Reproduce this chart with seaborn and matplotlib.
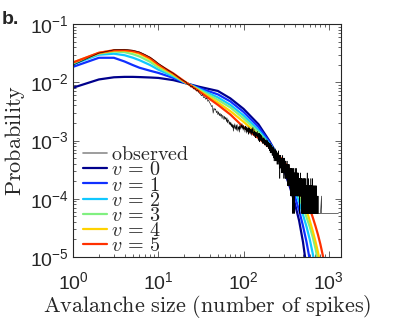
import numpy as np
import pandas as pd
import matplotlib
matplotlib.use('Agg')
import matplotlib.pyplot as plt
from matplotlib.lines import Line2D
import seaborn as sns

sns.set_style("ticks")
plt.rcParams['font.family'] = ['Liberation Sans', 'DejaVu Sans']
plt.rcParams['mathtext.fontset'] = 'cm'

# model fits, one curve per v, evaluated at these avalanche sizes
model_sizes = [1, 2, 3, 4, 5, 6, 8, 10, 15, 20, 30, 50, 70, 100, 150, 200, 250, 300,
               350, 400, 450, 500, 550, 600, 650, 700, 750, 800, 850, 900, 1000]
p_v0 = [.0081, .0112, .0122, .0124, .0124, .0123, .0121, .0119, .0109, .0098, .0084, .0071,
        .0053, .0035, .0019, 1.0e-3, 5.6e-4, 3.0e-4, 1.6e-4, 8.4e-5, 4.2e-5, 1.8e-5, 6.5e-6,
        2e-6, 6e-7, 2e-7, 1e-7, 1e-7, 1e-7, 1e-7, 1e-7]
p_v1 = [.0185, .0264, .0264, .0228, .0198, .0178, .0158, .0145, .0119, .0100, .0080, .0062,
        .0047, .0031, .0017, 9.6e-4, 5.6e-4, 3.3e-4, 1.95e-4, 1.12e-4, 6.3e-5, 3.4e-5, 1.8e-5,
        9e-6, 4e-6, 1.5e-6, 5e-7, 2e-7, 1e-7, 1e-7, 1e-7]
p_v2 = [.0205, .0298, .0310, .0292, .0265, .0240, .0198, .0165, .0126, .0101, .0077, .0055,
        .0041, .0027, .0015, 9.0e-4, 5.8e-4, 3.6e-4, 2.3e-4, 1.45e-4, 8.8e-5, 5.3e-5, 3.3e-5,
        2.0e-5, 1.15e-5, 6e-6, 2.8e-6, 1e-6, 4e-7, 1e-7, 1e-7]
p_v3 = [.0215, .0312, .0338, .0330, .0305, .0278, .0225, .0180, .0132, .0102, .0075, .0050,
        .0037, .0024, .00138, 8.5e-4, 5.7e-4, 3.8e-4, 2.55e-4, 1.7e-4, 1.1e-4, 7.2e-5, 4.8e-5,
        3.3e-5, 2.2e-5, 1.4e-5, 8.5e-6, 4.5e-6, 2e-6, 8e-7, 1e-7]
p_v4 = [.0220, .0320, .0350, .0352, .0335, .0310, .0248, .0195, .0138, .0104, .0072, .0045,
        .0032, .0021, .00124, 8.1e-4, 5.8e-4, 4.1e-4, 2.9e-4, 2.0e-4, 1.38e-4, 9.4e-5, 6.3e-5,
        4.2e-5, 2.8e-5, 1.85e-5, 1.2e-5, 7.5e-6, 4e-6, 2e-6, 4e-7]
p_v5 = [.0220, .0322, .0356, .0358, .0345, .0322, .0262, .0203, .0142, .0105, .0070, .0041,
        .0028, .0017, .00110, 7.7e-4, 5.8e-4, 4.3e-4, 3.2e-4, 2.4e-4, 1.75e-4, 1.3e-4, 9.5e-5,
        6.8e-5, 4.8e-5, 3.4e-5, 2.4e-5, 1.65e-5, 1.1e-5, 7.2e-6, 2.8e-6]
v_levels = [0, 1, 2, 3, 4, 5]
v_colors = ['#00008c', '#1030ff', '#10c8ff', '#80f080', '#ffd200', '#ff3000']

# observed avalanche counts for sizes 1..700, total number of avalanches
n_avalanches = 18000
obs_counts = [
    355, 572, 652, 662, 641, 599, 540, 486, 432, 382,
    346, 317, 292, 274, 257, 240, 225, 211, 200, 191,
    184, 166, 168, 149, 155, 138, 141, 127, 133, 119,
    114, 106, 111, 98, 101, 92, 97, 85, 88, 80,
    77, 69, 72, 53, 65, 60, 63, 54, 58, 50,
    56, 48, 53, 47, 51, 43, 49, 46, 41, 47,
    42, 45, 38, 44, 36, 41, 39, 34, 38, 33,
    37, 31, 35, 30, 34, 26, 33, 29, 35, 30,
    28, 33, 27, 34, 29, 26, 31, 28, 32, 25,
    34, 31, 28, 33, 30, 35, 29, 32, 27, 33,
    28, 31, 29, 25, 32, 28, 30, 24, 31, 26,
    29, 25, 31, 23, 28, 30, 24, 29, 26, 25,
    28, 23, 29, 25, 22, 28, 24, 26, 30, 23,
    25, 22, 28, 24, 21, 26, 23, 25, 20, 24,
    25, 22, 24, 20, 23, 26, 21, 23, 18, 24,
    21, 23, 19, 24, 17, 22, 21, 18, 23, 20,
    20, 18, 22, 17, 19, 21, 16, 19, 18, 20,
    17, 19, 16, 20, 18, 15, 19, 17, 18, 16,
    18, 15, 17, 19, 14, 17, 16, 18, 15, 17,
    16, 18, 14, 17, 15, 16, 13, 17, 15, 16,
    13, 16, 12, 14, 15, 11, 14, 13, 16, 12,
    14, 11, 13, 15, 12, 14, 10, 13, 12, 14,
    10, 12, 14, 9, 11, 12, 10, 13, 8, 11,
    12, 9, 11, 10, 13, 8, 11, 10, 12, 9,
    10, 11, 8, 12, 9, 10, 11, 7, 10, 9,
    11, 8, 10, 9, 7, 10, 12, 8, 9, 10,
    8, 9, 6, 10, 8, 9, 4, 8, 10, 7,
    9, 7, 8, 10, 6, 8, 9, 5, 8, 7,
    8, 9, 6, 7, 9, 5, 8, 7, 10, 6,
    7, 8, 5, 9, 7, 6, 8, 4, 7, 8,
    6, 8, 7, 5, 9, 6, 7, 4, 8, 6,
    7, 5, 6, 8, 4, 7, 6, 5, 7, 6,
    5, 7, 6, 4, 8, 5, 6, 7, 3, 6,
    6, 5, 7, 4, 6, 5, 3, 7, 5, 6,
    5, 6, 4, 7, 5, 3, 6, 5, 4, 6,
    5, 4, 6, 3, 5, 6, 4, 5, 2, 5,
    4, 6, 5, 3, 5, 4, 6, 2, 5, 4,
    5, 3, 4, 6, 1, 4, 5, 3, 4, 5,
    3, 5, 4, 2, 5, 3, 4, 6, 1, 4,
    4, 3, 5, 2, 4, 3, 1, 5, 3, 4,
    4, 5, 3, 6, 4, 2, 5, 4, 3, 5,
    4, 3, 5, 2, 4, 6, 3, 4, 2, 5,
    3, 4, 5, 3, 2, 4, 3, 5, 4, 2,
    4, 3, 2, 5, 3, 4, 2, 3, 4, 3,
    2, 4, 3, 5, 2, 3, 4, 2, 3, 4,
    3, 2, 4, 3, 1, 3, 4, 2, 3, 2,
    4, 2, 3, 2, 4, 3, 2, 5, 2, 3,
    2, 3, 4, 2, 3, 1, 2, 3, 4, 2,
    3, 2, 2, 4, 2, 3, 2, 1, 3, 2,
    2, 4, 2, 3, 2, 2, 3, 2, 1, 3,
    2, 3, 1, 2, 4, 1, 2, 3, 1, 2,
    3, 1, 2, 2, 4, 1, 3, 2, 1, 2,
    2, 3, 1, 2, 1, 4, 2, 1, 3, 2,
    1, 2, 3, 1, 2, 3, 1, 2, 2, 4,
    2, 1, 3, 2, 1, 2, 3, 1, 2, 1,
    3, 2, 1, 2, 1, 3, 2, 1, 2, 5,
    1, 2, 3, 1, 2, 1, 3, 2, 1, 2,
    2, 1, 3, 1, 2, 1, 2, 4, 1, 2,
    1, 3, 1, 2, 1, 2, 1, 3, 2, 1,
    2, 1, 3, 1, 2, 1, 1, 2, 3, 1,
    1, 2, 1, 3, 1, 2, 1, 1, 2, 1,
    2, 1, 3, 1, 1, 2, 1, 1, 4, 1,
    1, 2, 1, 1, 3, 1, 2, 1, 1, 2,
    1, 1, 3, 1, 2, 1, 1, 2, 1, 3,
    1, 2, 1, 1, 2, 1, 3, 1, 1, 4,
    1, 1, 2, 1, 1, 3, 1, 2, 1, 1,
    2, 1, 1, 3, 1, 1, 2, 1, 1, 2,
    1, 1, 2, 1, 3, 1, 1, 2, 1, 1,
    2, 1, 1, 1, 2, 1, 3, 1, 1, 2,
    1, 1, 2, 1, 1, 3, 1, 1, 2, 1,
]
# sparse tail beyond size 700 (sizes with at least one avalanche)
tail_sizes = [701, 702, 704, 705, 706, 708, 709, 711, 713, 714, 716, 718, 720, 722, 723,
              725, 727, 729, 731, 733, 736, 738, 741, 743, 746, 749, 752, 755, 766,
              775, 790, 804, 822, 823, 824, 842, 861, 886, 913, 941, 973, 1011, 1049,
              1091, 1131, 1176, 1221, 1262, 1305]
tail_counts = [1, 2, 1, 2, 1, 1, 3, 1, 2, 1, 1, 2, 1, 1, 3,
               1, 2, 1, 1, 2, 1, 1, 2, 1, 1, 1, 2, 1, 1,
               1, 1, 1, 2, 2, 1, 1, 1, 1, 1, 1, 1, 1, 1,
               1, 1, 1, 1, 1, 1]

obs_size = np.concatenate([np.arange(1, len(obs_counts) + 1), tail_sizes])
obs_n = np.concatenate([obs_counts, tail_counts])
keep = obs_n > 0
obs = pd.DataFrame({'size': obs_size[keep], 'prob': obs_n[keep] / n_avalanches})

model = pd.concat([pd.DataFrame({'size': model_sizes, 'prob': p, 'v': v})
                   for v, p in zip(v_levels, [p_v0, p_v1, p_v2, p_v3, p_v4, p_v5])])
palette = dict(zip(v_levels, v_colors))

fig = plt.figure(figsize=(4.07, 3.26), dpi=100)
ax = fig.add_axes([0.180, 0.212, 0.658, 0.714])
ax.set_xscale('log')
ax.set_yscale('log')

sns.lineplot(data=model, x='size', y='prob', hue='v', palette=palette, lw=1.6,
             estimator=None, legend=False, ax=ax)
sns.lineplot(data=obs, x='size', y='prob', color='k', lw=0.4, estimator=None,
             legend=False, ax=ax, zorder=3)

ax.set_xlim(1, 1400)
ax.set_ylim(1e-5, 1e-1)
ax.tick_params(which='both', direction='in', top=True, right=True, width=0.5,
               labelsize=14)
ax.tick_params(axis='x', which='both', pad=10)
ax.tick_params(axis='y', which='both', pad=3)
ax.tick_params(which='major', length=4)
ax.tick_params(which='minor', length=2)
for sp in ax.spines.values():
    sp.set_linewidth(0.8)

ax.set_xlabel(r'$\mathrm{Avalanche\ size\ (number\ of\ spikes)}$', fontsize=16, labelpad=0)
ax.set_ylabel(r'$\mathrm{Probability}$', fontsize=16, labelpad=2)

handles = [Line2D([], [], color='0.55', lw=1.2, label=r'$\mathrm{observed}$')]
for v, c in zip(v_levels, v_colors):
    handles.append(Line2D([], [], color=c, lw=1.6, label=r'$v\,=\,%d$' % v))
ax.legend(handles=handles, loc='upper left', bbox_to_anchor=(0.036, 0.48), frameon=False,
          fontsize=14.5, borderpad=0, borderaxespad=0, handlelength=1.2, handletextpad=0.2,
          labelspacing=-0.19)

fig.text(0.005, 0.965, 'b.', fontweight='bold', fontsize=14, va='top')

fig.savefig('out.png', dpi=100)
plt.close()
